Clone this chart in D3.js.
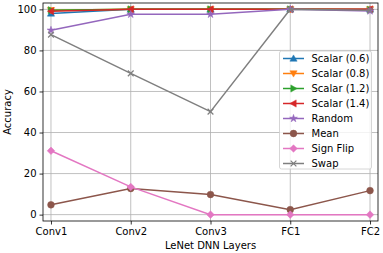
<!DOCTYPE html>
<html>
<head>
<meta charset="utf-8">
<script src="https://cdn.jsdelivr.net/npm/d3@7"></script>
<style>
  body { margin: 0; background: #fff; }
  text { font-family: "DejaVu Sans", sans-serif; }
</style>
</head>
<body>
<div class="chart"></div>
<script>
// data
var layers = ["Conv1", "Conv2", "Conv3", "FC1", "FC2"];
var seriesNames = ["Scalar (0.6)", "Scalar (0.8)", "Scalar (1.2)", "Scalar (1.4)", "Random", "Mean", "Sign Flip", "Swap"];
var scalar06 = [98.0, 100, 100, 100, 100];
var scalar08 = [99.6, 100, 100, 100, 100];
var scalar12 = [99.6, 100, 100, 100, 99.8];
var scalar14 = [99.1, 100, 100, 100, 100];
var randomV = [89.8, 97.6, 97.6, 100, 99.2];
var meanV = [4.8, 12.7, 9.8, 2.4, 11.7];
var signFlip = [31.1, 13.5, 0, 0, 0];
var swapV = [87.7, 68.8, 50.2, 100, 99.6];
var yTicks = [0, 20, 40, 60, 80, 100];

var colors = ["#1f77b4", "#ff7f0e", "#2ca02c", "#d62728", "#9467bd", "#8c564b", "#e377c2", "#7f7f7f"];
var markers = ["tri-up", "tri-down", "tri-right", "tri-left", "star", "circle", "diamond", "x"];
var allValues = [scalar06, scalar08, scalar12, scalar14, randomV, meanV, signFlip, swapV];

var svgWidth = 383;
var svgHeight = 253;
var margin = { top: 3, right: 5, bottom: 32, left: 43 };
var width = svgWidth - margin.left - margin.right;
var height = svgHeight - margin.top - margin.bottom;

var svg = d3.select(".chart").append("svg")
  .attr("width", svgWidth)
  .attr("height", svgHeight);

var g = svg.append("g")
  .attr("transform", `translate(${margin.left}, ${margin.top})`);

var x = d3.scaleLinear().domain([-0.1, 4.1]).range([0, width]);
var y = d3.scaleLinear().domain([-3.1, 103.1]).range([height, 0]);

// grid
g.append("g").selectAll("line").data(d3.range(layers.length)).enter().append("line")
  .attr("x1", (d) => x(d)).attr("x2", (d) => x(d))
  .attr("y1", 0).attr("y2", height)
  .attr("stroke", "#b0b0b0").attr("stroke-width", 0.8);
g.append("g").selectAll("line").data(yTicks).enter().append("line")
  .attr("y1", (d) => y(d)).attr("y2", (d) => y(d))
  .attr("x1", 0).attr("x2", width)
  .attr("stroke", "#b0b0b0").attr("stroke-width", 0.8);

// axes
var xAxis = g.append("g")
  .attr("transform", `translate(0, ${height})`)
  .call(d3.axisBottom(x).tickValues(d3.range(layers.length)).tickFormat((i) => layers[i]).tickSizeOuter(0).tickSize(3.5).tickPadding(3));
var yAxis = g.append("g")
  .call(d3.axisLeft(y).tickValues(yTicks).tickSizeOuter(0).tickSize(3.5).tickPadding(3));
[xAxis, yAxis].forEach(function (a) {
  a.select(".domain").remove();
  a.selectAll("text").attr("font-size", 10).attr("fill", "#000").style("font-family", "DejaVu Sans");
  a.selectAll("line").attr("stroke", "#000").attr("stroke-width", 0.8);
});

// frame
g.append("rect").attr("width", width).attr("height", height)
  .attr("fill", "none").attr("stroke", "#000").attr("stroke-width", 0.8);

// marker shapes
function markerPath(kind) {
  var s = 3.6;
  if (kind === "tri-up") return `M0,${-s}L${s},${s * 0.75}L${-s},${s * 0.75}Z`;
  if (kind === "tri-down") return `M0,${s}L${s},${-s * 0.75}L${-s},${-s * 0.75}Z`;
  if (kind === "tri-right") return `M${s},0L${-s * 0.75},${s}L${-s * 0.75},${-s}Z`;
  if (kind === "tri-left") return `M${-s},0L${s * 0.75},${s}L${s * 0.75},${-s}Z`;
  if (kind === "star") return d3.symbol(d3.symbolStar, 19)();
  if (kind === "circle") return d3.symbol(d3.symbolCircle, 36)();
  if (kind === "diamond") return `M0,${-s * 1.05}L${s * 1.05},0L0,${s * 1.05}L${-s * 1.05},0Z`;
  return `M${-s * 0.8},${-s * 0.8}L${s * 0.8},${s * 0.8}M${-s * 0.8},${s * 0.8}L${s * 0.8},${-s * 0.8}`;
}

var line = d3.line().x((d, i) => x(i)).y((d) => y(d));

allValues.forEach(function (vals, k) {
  var sg = g.append("g");
  sg.append("path").datum(vals)
    .attr("d", line).attr("fill", "none")
    .attr("stroke", colors[k]).attr("stroke-width", 1.5);
  sg.selectAll("path.mk").data(vals).enter().append("path")
    .attr("class", "mk")
    .attr("transform", (d, i) => `translate(${x(i)}, ${y(d)})`)
    .attr("d", markerPath(markers[k]))
    .attr("fill", markers[k] === "x" ? "none" : colors[k])
    .attr("stroke", colors[k])
    .attr("stroke-width", markers[k] === "x" ? 1.2 : 0.5);
});

// axis titles
svg.append("text")
  .attr("x", margin.left + width / 2).attr("y", 249)
  .attr("text-anchor", "middle").attr("font-size", 10)
  .text("LeNet DNN Layers");
svg.append("text")
  .attr("transform", `translate(11, ${margin.top + height / 2}) rotate(-90)`)
  .attr("text-anchor", "middle").attr("font-size", 10)
  .text("Accuracy");

// legend
var legend = svg.append("g").attr("transform", "translate(279.5, 51)");
legend.append("rect")
  .attr("width", 92).attr("height", 118).attr("rx", 2)
  .attr("fill", "#fff").attr("fill-opacity", 0.8)
  .attr("stroke", "#cccccc").attr("stroke-width", 0.8);
seriesNames.forEach(function (name, k) {
  var row = legend.append("g").attr("transform", `translate(0, ${7.5 + k * 15})`);
  row.append("line").attr("x1", 3.5).attr("x2", 24.5)
    .attr("stroke", colors[k]).attr("stroke-width", 1.5);
  row.append("path").attr("transform", "translate(14, 0)")
    .attr("d", markerPath(markers[k]))
    .attr("fill", markers[k] === "x" ? "none" : colors[k])
    .attr("stroke", colors[k])
    .attr("stroke-width", markers[k] === "x" ? 1.2 : 0.5);
  row.append("text").attr("x", 32).attr("y", 3.6)
    .attr("font-size", 10).text(name);
});
</script>
</body>
</html>
